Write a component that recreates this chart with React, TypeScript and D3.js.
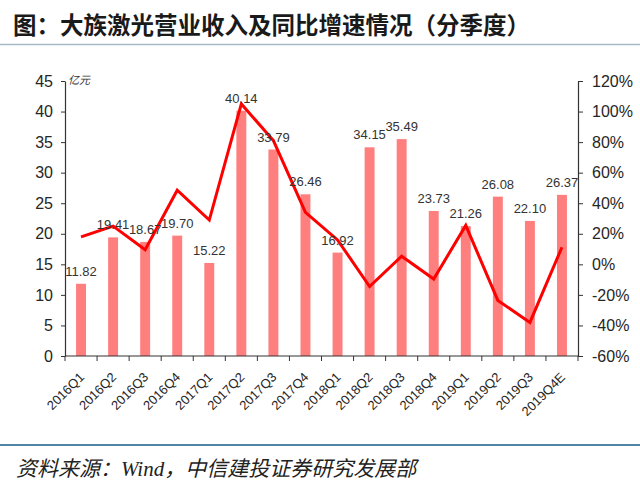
import React, { useEffect, useRef } from 'react';
import * as d3 from 'd3';

// quarterly revenue (亿元) and YoY growth
const categories = [
  '2016Q1', '2016Q2', '2016Q3', '2016Q4',
  '2017Q1', '2017Q2', '2017Q3', '2017Q4',
  '2018Q1', '2018Q2', '2018Q3', '2018Q4',
  '2019Q1', '2019Q2', '2019Q3', '2019Q4E',
];
const revenue = [
  11.82, 19.41, 18.67, 19.7, 15.22, 40.14, 33.79, 26.46,
  16.92, 34.15, 35.49, 23.73, 21.26, 26.08, 22.1, 26.37,
];
const yoy = [
  0.18, 0.25, 0.095, 0.485, 0.29, 1.05, 0.81, 0.34,
  0.16, -0.145, 0.053, -0.096, 0.255, -0.236, -0.38, 0.112,
];
const leftTicks = [0, 5, 10, 15, 20, 25, 30, 35, 40, 45];
const rightTicks = [-0.6, -0.4, -0.2, 0, 0.2, 0.4, 0.6, 0.8, 1.0, 1.2];

const W = 640;
const H = 492;
const latin = '"Liberation Sans", Arial, sans-serif';
const cjk = '"Noto Sans CJK SC", sans-serif';

const Chart: React.FC = () => {
  const svgRef = useRef<SVGSVGElement>(null);

  useEffect(() => {
    if (!svgRef.current) return;
    const svg = d3.select(svgRef.current);
    svg.selectAll('*').remove();

    const left = 65;
    const right = 578;
    const top = 81;
    const bottom = 356;

    // title + rules
    svg.append('text')
      .attr('x', 13)
      .attr('y', 34)
      .attr('font-family', cjk)
      .attr('font-weight', 'bold')
      .attr('font-size', 23.5)
      .attr('fill', '#1a1a1a')
      .text('图：大族激光营业收入及同比增速情况（分季度）');

    svg.append('line')
      .attr('x1', 0).attr('x2', W)
      .attr('y1', 44.5).attr('y2', 44.5)
      .attr('stroke', '#a9bac7')
      .attr('stroke-width', 1.5);

    svg.append('line')
      .attr('x1', 0).attr('x2', W)
      .attr('y1', 445).attr('y2', 445)
      .attr('stroke', '#4f86a6')
      .attr('stroke-width', 2);

    svg.append('text')
      .attr('x', 16)
      .attr('y', 476)
      .attr('font-family', `"Liberation Serif", ${cjk}`)
      .attr('font-style', 'italic')
      .attr('font-size', 21)
      .attr('fill', '#222')
      .text('资料来源：Wind，中信建投证券研究发展部');

    // scales
    const x = d3.scaleBand<string>().domain(categories).range([left, right]).padding(0);
    const yL = d3.scaleLinear().domain([0, 45]).range([bottom, top]);
    const yR = d3.scaleLinear().domain([-0.6, 1.2]).range([bottom, top]);
    const barW = x.bandwidth() * 0.31;
    const cx = (c: string) => (x(c) ?? 0) + x.bandwidth() / 2;

    // bars
    svg.append('g')
      .selectAll('rect')
      .data(categories)
      .join('rect')
      .attr('x', c => cx(c) - barW / 2)
      .attr('width', barW)
      .attr('y', (_, i) => yL(revenue[i]))
      .attr('height', (_, i) => yL(0) - yL(revenue[i]))
      .attr('fill', '#ff7f7f');

    // left axis
    const axL = svg.append('g')
      .attr('transform', `translate(${left},0)`)
      .call(d3.axisLeft(yL).tickValues(leftTicks).tickSizeInner(4).tickSizeOuter(0).tickPadding(8));
    axL.select('.domain').attr('stroke', '#333').attr('stroke-width', 1.2);
    axL.selectAll('.tick line').attr('stroke', '#333');
    axL.selectAll('.tick text')
      .attr('font-family', latin)
      .attr('font-size', 16)
      .attr('fill', '#262626');

    svg.append('text')
      .attr('x', 68)
      .attr('y', 84)
      .attr('font-family', cjk)
      .attr('font-style', 'italic')
      .attr('font-size', 11)
      .attr('fill', '#333')
      .text('亿元');

    // right axis
    const axR = svg.append('g')
      .attr('transform', `translate(${right},0)`)
      .call(
        d3.axisRight(yR)
          .tickValues(rightTicks)
          .tickSizeInner(5)
          .tickSizeOuter(0)
          .tickPadding(9)
          .tickFormat(d => `${Math.round((d as number) * 100)}%`)
      );
    axR.select('.domain').attr('stroke', '#333').attr('stroke-width', 1.2);
    axR.selectAll('.tick line').attr('stroke', '#333');
    axR.selectAll('.tick text')
      .attr('font-family', latin)
      .attr('font-size', 16)
      .attr('fill', '#262626');

    // bottom axis: ticks at band edges
    const edges = d3.range(categories.length + 1).map(i => left + i * x.step());
    const axB = svg.append('g');
    axB.append('line')
      .attr('x1', left).attr('x2', right)
      .attr('y1', bottom).attr('y2', bottom)
      .attr('stroke', '#333')
      .attr('stroke-width', 1.2);
    axB.selectAll('line.tk')
      .data(edges)
      .join('line')
      .attr('class', 'tk')
      .attr('x1', d => d).attr('x2', d => d)
      .attr('y1', bottom).attr('y2', bottom + 5)
      .attr('stroke', '#333');
    axB.selectAll('text')
      .data(categories)
      .join('text')
      .attr('transform', c => `translate(${cx(c) + 4},${bottom + 22}) rotate(-45)`)
      .attr('text-anchor', 'end')
      .attr('font-family', latin)
      .attr('font-size', 13)
      .attr('fill', '#262626')
      .text(c => c);

    // yoy line
    const line = d3.line<number>()
      .x((_, i) => cx(categories[i]))
      .y(d => yR(d));
    svg.append('path')
      .datum(yoy)
      .attr('fill', 'none')
      .attr('stroke', '#ff0000')
      .attr('stroke-width', 3)
      .attr('stroke-linejoin', 'miter')
      .attr('d', line);

    // value labels
    svg.append('g')
      .selectAll('text')
      .data(categories)
      .join('text')
      .attr('x', c => cx(c))
      .attr('y', (_, i) => yL(revenue[i]) - 8)
      .attr('text-anchor', 'middle')
      .attr('font-family', latin)
      .attr('font-size', 13)
      .attr('fill', '#333')
      .text((_, i) => revenue[i].toFixed(2));
  }, []);

  return <svg ref={svgRef} width={W} height={H} style={{ display: 'block', background: '#fff' }} />;
};

export default function App() {
  return (
    <>
      <style>{'body{margin:0;background:#fff}'}</style>
      <Chart />
    </>
  );
}
